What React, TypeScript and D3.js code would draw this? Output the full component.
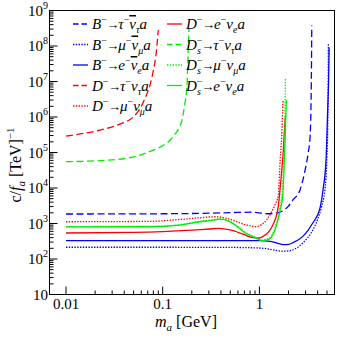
import React from 'react';
import * as d3 from 'd3';

type Pt = [number, number];

// m_a [GeV], c/f_a [TeV^-1]
const B_TAU: Pt[] = [
  [0.01, 1850], [0.03, 1860], [0.1, 1880], [0.3, 1950], [0.6, 2050], [0.8, 2080],
  [1.0, 2000], [1.2, 1880], [1.45, 1950], [1.75, 2280], [2.0, 3100], [2.22, 4600],
  [2.63, 8800], [2.97, 3.2e4], [3.2, 1.0e5], [3.34, 2.7e5], [3.41, 1.5e6],
  [3.45, 1.5e7], [3.48, 3.8e8],
];
const B_MU: Pt[] = [
  [0.01, 214], [0.1, 214], [0.4, 213], [0.8, 208], [1.1, 200], [1.4, 180],
  [1.75, 165], [2.0, 168], [2.23, 182], [2.82, 285], [3.58, 665], [4.0, 1300],
  [4.4, 3000], [4.76, 8850], [5.0, 8e4], [5.1, 8e5], [5.15, 1e7], [5.168, 1.2e8],
];
const B_E: Pt[] = [
  [0.01, 330], [0.1, 330], [0.5, 330], [1.0, 328], [1.3, 315], [1.6, 270],
  [1.8, 253], [2.0, 258], [2.23, 288], [2.82, 433], [3.58, 1050], [4.24, 2760],
  [4.55, 8900], [4.89, 6.2e4], [5.08, 1.5e6], [5.2, 1.2e7], [5.265, 9e7],
];
const D_TAU: Pt[] = [
  [0.01, 2.9e5], [0.0225, 4.3e5], [0.0361, 6.3e5], [0.0493, 9.9e5], [0.0596, 1.9e6],
  [0.0671, 3.9e6], [0.0739, 7.9e6], [0.0793, 1.8e7], [0.0851, 5.5e7], [0.0901, 2.8e8],
];
const D_MU: Pt[] = [
  [0.01, 1120], [0.074, 1150], [0.15, 1300], [0.243, 1450], [0.346, 1550],
  [0.45, 1420], [0.557, 1190], [0.68, 960], [0.8, 865], [0.92, 810], [1.05, 930],
  [1.19, 1270], [1.32, 2000], [1.45, 3360], [1.57, 6400], [1.64, 6.2e4],
  [1.7, 2.8e5], [1.74, 1.5e6], [1.76, 3e6],
];
const D_E: Pt[] = [
  [0.01, 540], [0.05, 560], [0.1, 590], [0.2, 650], [0.3, 700], [0.38, 730],
  [0.5, 660], [0.68, 500], [0.86, 400], [1.0, 390], [1.14, 470], [1.26, 600],
  [1.38, 920], [1.56, 2760], [1.67, 1.7e4], [1.77, 1.2e5], [1.83, 5.9e5], [1.862, 1.1e6],
];
const DS_TAU: Pt[] = [
  [0.01, 5.5e4], [0.03, 6.2e4], [0.05, 7.5e4], [0.079, 1.15e5], [0.1, 1.55e5],
  [0.128, 2.8e5], [0.158, 8.2e5], [0.17, 2.5e6], [0.178, 7e6], [0.183, 5.5e7], [0.187, 3e8],
];
const DS_MU: Pt[] = [
  [0.01, 820], [0.074, 830], [0.15, 920], [0.243, 1150], [0.31, 1250], [0.39, 1350],
  [0.47, 1230], [0.557, 950], [0.71, 570], [0.9, 415], [1.06, 345], [1.23, 375],
  [1.45, 760], [1.64, 3000], [1.74, 1.2e4], [1.8, 1.2e5], [1.84, 1.5e6], [1.858, 1.2e7],
];
const DS_E: Pt[] = [
  [0.01, 800], [0.074, 810], [0.15, 900], [0.243, 1120], [0.31, 1200], [0.39, 1320],
  [0.47, 1200], [0.557, 920], [0.71, 550], [0.9, 400], [1.06, 330], [1.23, 350],
  [1.45, 670], [1.64, 2430], [1.74, 5800], [1.84, 1.8e5], [1.9, 3e6],
];

const X_MAJOR = [0.01, 0.1, 1];
const X_LABELS = ['0.01', '0.1', '1'];
const Y_EXPONENTS = [1, 2, 3, 4, 5, 6, 7, 8, 9];

const BLUE = '#0000ff';
const RED = '#ff0000';
const GREEN = '#00ee00';
const DASH = '7,3.5';
const DOT = '1.4,1.4';

const SERIES = [
  { data: B_TAU, color: BLUE, dash: DASH, meson: 'B', lep: 'τ', bar: true },
  { data: B_MU, color: BLUE, dash: DOT, meson: 'B', lep: 'μ', bar: true },
  { data: B_E, color: BLUE, dash: null, meson: 'B', lep: 'e', bar: true },
  { data: D_TAU, color: RED, dash: DASH, meson: 'D', lep: 'τ', bar: false },
  { data: D_MU, color: RED, dash: DOT, meson: 'D', lep: 'μ', bar: false },
  { data: D_E, color: RED, dash: null, meson: 'D', lep: 'e', bar: false },
  { data: DS_TAU, color: GREEN, dash: DASH, meson: 'Ds', lep: 'τ', bar: false },
  { data: DS_MU, color: GREEN, dash: DOT, meson: 'Ds', lep: 'μ', bar: false },
  { data: DS_E, color: GREEN, dash: null, meson: 'Ds', lep: 'e', bar: false },
];

const FONT = '"Liberation Serif", "Times New Roman", serif';
const L = 49.5, R = 334.5, T = 10.5, B = 294.5;

const x = d3.scaleLog().domain([0.00675, 5.98]).range([L, R]);
const y = d3.scaleLog().domain([10, 1e9]).range([B, T]);

const line = d3.line<Pt>()
  .x(d => x(d[0]))
  .y(d => y(d[1]))
  .curve(d3.curveMonotoneX);

function LegendLabel({ meson, lep, bar, tx, ty }: any) {
  return (
    <text x={tx} y={ty} fontFamily={FONT} fontSize={15}>
      <tspan fontStyle="italic">{meson === 'Ds' ? 'D' : meson}</tspan>
      {meson === 'Ds' ? (
        <>
          <tspan fontSize={10} dy={-6}>−</tspan>
          <tspan fontSize={10} fontStyle="italic" dx={-5.6} dy={10}>s</tspan>
          <tspan dy={-4} dx={0.5} fontSize={13}>→</tspan>
        </>
      ) : (
        <>
          <tspan fontSize={10} dy={-6}>−</tspan>
          <tspan dy={6} dx={-0.5} fontSize={13}>→</tspan>
        </>
      )}
      <tspan fontStyle="italic" dx={-1}>{lep}</tspan>
      <tspan fontSize={10} dy={-6}>−</tspan>
      <tspan fontStyle="italic" dy={6} style={bar ? { textDecoration: 'overline' } : undefined}>ν</tspan>
      <tspan fontSize={10} fontStyle="italic" dy={4}>{lep}</tspan>
      <tspan fontStyle="italic" dy={-4}>a</tspan>
    </text>
  );
}

export default function App() {
  const xMinor: number[] = [];
  [0.01, 0.1, 1].forEach(dec => {
    for (let k = 2; k <= 9; k++) if (k * dec <= 5.98) xMinor.push(k * dec);
  });
  const yMinor: number[] = [];
  for (let e = 1; e < 9; e++) for (let k = 2; k <= 9; k++) yMinor.push(k * Math.pow(10, e));

  const rowY = (i: number) => 24 + i * 20.5;

  return (
    <svg width={339} height={339} style={{ position: 'absolute', left: 0, top: 0, background: '#fff' }}>
      <defs>
        <clipPath id="plot-clip">
          <rect x={L} y={T} width={R - L} height={B - T} />
        </clipPath>
      </defs>

      {/* curves */}
      <g clipPath="url(#plot-clip)" fill="none">
        {SERIES.map((s, i) => (
          <path key={i} d={line(s.data) || ''} stroke={s.color} strokeWidth={1.3}
            strokeDasharray={s.dash || undefined} />
        ))}
      </g>

      {/* ticks, inward */}
      <g stroke="#000" strokeWidth={1}>
        {X_MAJOR.map(v => <line key={'xm' + v} x1={x(v)} x2={x(v)} y1={B} y2={B - 8} />)}
        {xMinor.map(v => <line key={'xn' + v} x1={x(v)} x2={x(v)} y1={B} y2={B - 4} />)}
        {Y_EXPONENTS.map(e => <line key={'ym' + e} x1={L} x2={L + 8} y1={y(Math.pow(10, e))} y2={y(Math.pow(10, e))} />)}
        {yMinor.map(v => <line key={'yn' + v} x1={L} x2={L + 4} y1={y(v)} y2={y(v)} />)}
      </g>

      {/* frame */}
      <rect x={L} y={T} width={R - L} height={B - T} fill="none" stroke="#000" strokeWidth={1} />

      {/* tick labels */}
      <g fontFamily={FONT} fontSize={15} fill="#000">
        {X_MAJOR.map((v, i) => (
          <text key={'xl' + v} x={x(v)} y={309} textAnchor="middle">{X_LABELS[i]}</text>
        ))}
        {Y_EXPONENTS.map(e => (
          <text key={'yl' + e} x={48} y={y(Math.pow(10, e)) + 5} textAnchor="end">
            10{e > 1 && <tspan fontSize={10} dy={-7}>{e}</tspan>}
          </text>
        ))}
      </g>

      {/* axis titles */}
      <text x={186} y={327} textAnchor="middle" fontFamily={FONT} fontSize={16}>
        <tspan fontStyle="italic">m</tspan>
        <tspan fontStyle="italic" fontSize={11} dy={4}>a</tspan>
        <tspan dy={-4}> [GeV]</tspan>
      </text>
      <text transform="translate(21,165) rotate(-90)" textAnchor="middle" fontFamily={FONT} fontSize={16}>
        c/<tspan fontStyle="italic">f</tspan>
        <tspan fontStyle="italic" fontSize={11} dy={4}>a</tspan>
        <tspan dy={-4}> [TeV]</tspan>
        <tspan fontSize={11} dy={-7}>−1</tspan>
      </text>

      {/* legend */}
      {SERIES.map((s, i) => {
        const col = i < 5 ? 0 : 1;
        const row = col === 0 ? i : i - 5;
        const x0 = col === 0 ? 73 : 167;
        const ly = rowY(row);
        return (
          <g key={'lg' + i}>
            <line x1={x0} x2={x0 + 15} y1={ly} y2={ly} stroke={s.color} strokeWidth={1.3}
              strokeDasharray={s.dash === DASH ? '5.5,3' : s.dash || undefined} />
            <LegendLabel meson={s.meson} lep={s.lep} bar={s.bar} tx={x0 + 19} ty={ly + 5} />
          </g>
        );
      })}
    </svg>
  );
}
